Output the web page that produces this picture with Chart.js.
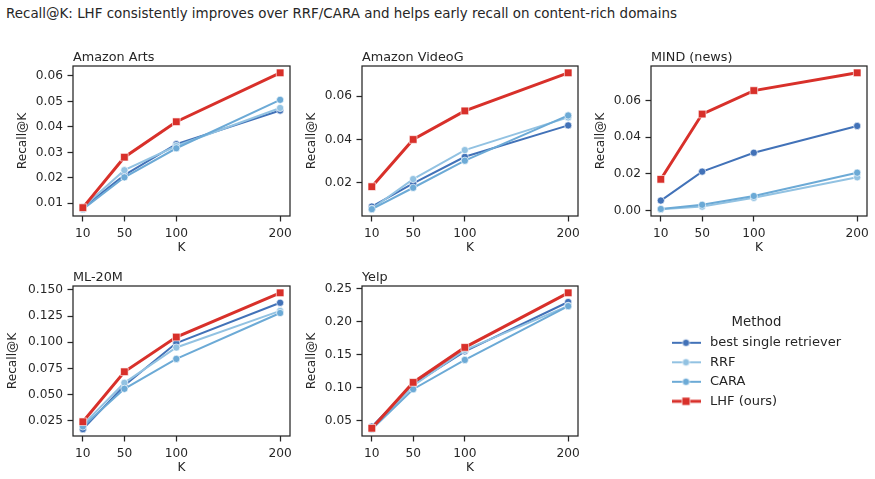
<!DOCTYPE html>
<html><head><meta charset="utf-8">
<script src="https://cdn.jsdelivr.net/npm/chart.js@4/dist/chart.umd.min.js"></script>
<style>
html,body{margin:0;padding:0;background:#fff;overflow:hidden;width:875px;height:479px;position:relative;}
#sup{position:absolute;left:6px;top:5.5px;font-family:'DejaVu Sans';font-size:13.45px;color:#262626;line-height:16px;white-space:nowrap;}
canvas{position:absolute;}
</style></head><body>
<div id="sup">Recall@K: LHF consistently improves over RRF/CARA and helps early recall on content-rich domains</div>
<script>
// ---- data ----
const kValues = [10, 50, 100, 200];
const methodNames = ['best single retriever', 'RRF', 'CARA', 'LHF (ours)'];
const panelTitles = ['Amazon Arts', 'Amazon VideoG', 'MIND (news)', 'ML-20M', 'Yelp'];

const artsBest = [0.0082, 0.0211, 0.0332, 0.0464];
const artsRRF  = [0.0085, 0.0230, 0.0325, 0.0474];
const artsCARA = [0.0077, 0.0202, 0.0316, 0.0506];
const artsLHF  = [0.0083, 0.0281, 0.0420, 0.0612];

const videoBest = [0.0090, 0.0197, 0.0320, 0.0465];
const videoRRF  = [0.0080, 0.0217, 0.0351, 0.0502];
const videoCARA = [0.0078, 0.0177, 0.0302, 0.0511];
const videoLHF  = [0.0182, 0.0400, 0.0532, 0.0708];

const mindBest = [0.0055, 0.0213, 0.0316, 0.0462];
const mindRRF  = [0.0008, 0.0022, 0.0070, 0.0182];
const mindCARA = [0.0009, 0.0032, 0.0080, 0.0207];
const mindLHF  = [0.0171, 0.0527, 0.0655, 0.0752];

const mlBest = [0.0169, 0.0587, 0.0993, 0.1378];
const mlRRF  = [0.0210, 0.0612, 0.0950, 0.1300];
const mlCARA = [0.0195, 0.0555, 0.0841, 0.1280];
const mlLHF  = [0.0240, 0.0718, 0.1050, 0.1473];

const yelpBest = [0.0410, 0.1050, 0.1550, 0.2298];
const yelpRRF  = [0.0380, 0.1030, 0.1570, 0.2240];
const yelpCARA = [0.0371, 0.0976, 0.1420, 0.2235];
const yelpLHF  = [0.0385, 0.1080, 0.1610, 0.2437];

const artsTicks  = [0.01, 0.02, 0.03, 0.04, 0.05, 0.06];
const videoTicks = [0.02, 0.04, 0.06];
const mindTicks  = [0.00, 0.02, 0.04, 0.06];
const mlTicks    = [0.025, 0.050, 0.075, 0.100, 0.125, 0.150];
const yelpTicks  = [0.05, 0.10, 0.15, 0.20, 0.25];
const tickDecimals = [2, 2, 2, 3, 2];

// ---- style ----
const FONT = 'DejaVu Sans';
const INK = '#262626';
const methodColors = ['#4272b8', '#92c2e2', '#6caad6', '#d8302a'];
const lineWidths = [2, 2, 2, 3];
const markerStyles = ['circle', 'circle', 'circle', 'rect'];
const markerRadius = [3.6, 3.6, 3.6, 5.4];
const drawOrder = [3, 2, 1, 0];

const panelData = [
  [artsBest, artsRRF, artsCARA, artsLHF],
  [videoBest, videoRRF, videoCARA, videoLHF],
  [mindBest, mindRRF, mindCARA, mindLHF],
  [mlBest, mlRRF, mlCARA, mlLHF],
  [yelpBest, yelpRRF, yelpCARA, yelpLHF],
];
const panelTicks = [artsTicks, videoTicks, mindTicks, mlTicks, yelpTicks];
const boxes = [
  {l: 73,  t: 66,  r: 290, b: 216, lab: 50},
  {l: 362, t: 66,  r: 578, b: 216, lab: 50},
  {l: 651, t: 66,  r: 867, b: 216, lab: 50.5},
  {l: 73,  t: 286, r: 290, b: 436, lab: 60},
  {l: 362, t: 286, r: 578, b: 436, lab: 50},
];

const framePlugin = {
  id: 'frame',
  afterDatasetsDraw(chart) {
    const {ctx, chartArea: a} = chart;
    ctx.save();
    ctx.strokeStyle = INK;
    ctx.lineWidth = 1.25;
    ctx.strokeRect(a.left, a.top, a.right - a.left, a.bottom - a.top);
    ctx.restore();
  },
  afterDraw(chart, args, opts) {
    const {ctx, chartArea: a} = chart;
    ctx.save();
    ctx.fillStyle = INK;
    ctx.font = '12.8px "' + FONT + '"';
    ctx.textBaseline = 'alphabetic';
    ctx.textAlign = 'left';
    ctx.fillText(opts.text, a.left, a.top - 5.5);
    ctx.restore();
  }
};

const LEFT = 70, TOP = 24, RIGHT = 8, BOTTOM = 44;
const xMin = kValues[0] - 0.05 * (kValues[kValues.length - 1] - kValues[0]);
const xMax = kValues[kValues.length - 1] + 0.05 * (kValues[kValues.length - 1] - kValues[0]);

panelData.forEach((series, p) => {
  const bx = boxes[p];
  const cv = document.createElement('canvas');
  cv.width = (bx.r - bx.l) + LEFT + RIGHT;
  cv.height = (bx.b - bx.t) + TOP + BOTTOM;
  cv.style.left = (bx.l - LEFT) + 'px';
  cv.style.top = (bx.t - TOP) + 'px';
  document.body.appendChild(cv);
  const all = series.flat();
  const dmin = Math.min(...all), dmax = Math.max(...all);
  const span = dmax - dmin;
  const ticks = panelTicks[p];
  const dec = tickDecimals[p];
  const labCenter = LEFT - bx.lab;
  new Chart(cv, {
    type: 'line',
    data: {
      datasets: series.map((vals, i) => ({
        label: methodNames[i],
        data: kValues.map((k, j) => ({x: k, y: vals[j]})),
        borderColor: methodColors[i],
        backgroundColor: methodColors[i],
        borderWidth: lineWidths[i],
        pointStyle: markerStyles[i],
        pointRadius: markerRadius[i],
        pointBackgroundColor: methodColors[i],
        pointBorderColor: 'rgba(255,255,255,0.85)',
        pointBorderWidth: 0.75,
        tension: 0,
        order: drawOrder[i],
      }))
    },
    options: {
      responsive: false,
      animation: false,
      events: [],
      layout: {padding: {left: 0, top: TOP, right: RIGHT, bottom: 0}},
      plugins: {legend: {display: false}, tooltip: {enabled: false}, frame: {text: panelTitles[p]}},
      scales: {
        x: {
          type: 'linear', min: xMin, max: xMax,
          afterBuildTicks: s => { s.ticks = kValues.map(v => ({value: v})); },
          afterFit: s => { s.height = BOTTOM; },
          ticks: {color: INK, font: {family: FONT, size: 12.2}, padding: 5.5, callback: v => String(v), maxRotation: 0, autoSkip: false},
          grid: {display: true, drawOnChartArea: false, drawTicks: true, tickLength: 5.5, tickColor: INK, tickWidth: 1.25},
          border: {display: false},
          title: {display: true, text: 'K', color: INK, font: {family: FONT, size: 12.2}, padding: {top: 0, bottom: 5}},
        },
        y: {
          type: 'linear', min: dmin - 0.05 * span, max: dmax + 0.05 * span,
          afterBuildTicks: s => { s.ticks = ticks.map(v => ({value: v})); },
          afterFit: s => { s.width = LEFT; },
          ticks: {color: INK, font: {family: FONT, size: 12.2}, padding: 4.5, callback: v => Number(v).toFixed(dec), autoSkip: false},
          grid: {display: true, drawOnChartArea: false, drawTicks: true, tickLength: 5.5, tickColor: INK, tickWidth: 1.25},
          border: {display: false},
          title: {display: true, text: 'Recall@K', color: INK, font: {family: FONT, size: 12.2}, padding: {top: labCenter - 12.2 * 1.2 / 2, bottom: 0}},
        }
      }
    },
    plugins: [framePlugin]
  });
});

// ---- legend (6th cell) ----
function markerCanvas(i) {
  const c = document.createElement('canvas');
  c.width = 29; c.height = 12;
  const g = c.getContext('2d');
  g.strokeStyle = methodColors[i];
  g.lineWidth = lineWidths[i];
  g.beginPath(); g.moveTo(0, 6); g.lineTo(29, 6); g.stroke();
  g.fillStyle = methodColors[i];
  g.strokeStyle = 'rgba(255,255,255,0.85)';
  g.lineWidth = 0.75;
  if (markerStyles[i] === 'rect') {
    g.fillRect(14.5 - 4, 2, 8, 8); g.strokeRect(14.5 - 4, 2, 8, 8);
  } else {
    g.beginPath(); g.arc(14.5, 6, 3.6, 0, Math.PI * 2); g.fill(); g.stroke();
  }
  return c;
}
const legendMarkers = methodNames.map((n, i) => markerCanvas(i));
const lc = document.createElement('canvas');
lc.width = 420; lc.height = 120;
lc.style.left = '661.5px'; lc.style.top = '315.5px';
document.body.appendChild(lc);
new Chart(lc, {
  type: 'line',
  data: {datasets: methodNames.map((n, i) => ({label: n, data: [], borderColor: methodColors[i], backgroundColor: methodColors[i]}))},
  options: {
    responsive: false, animation: false, events: [],
    layout: {padding: 0},
    scales: {x: {display: false}, y: {display: false}},
    plugins: {
      tooltip: {enabled: false},
      legend: {
        display: true, position: 'left', align: 'start',
        title: {display: true, text: 'Method', color: INK, font: {family: FONT, size: 13.3, lineHeight: 1}, padding: {top: 0, bottom: 0.5}},
        labels: {
          usePointStyle: true, pointStyleWidth: 35, font: {family: FONT, size: 13}, color: INK, padding: 6.5,
          generateLabels: () => methodNames.map((n, i) => ({
            text: n, pointStyle: legendMarkers[i], fillStyle: 'rgba(0,0,0,0)', strokeStyle: 'rgba(0,0,0,0)',
            lineWidth: 0, hidden: false, datasetIndex: i, fontColor: INK
          }))
        }
      }
    }
  }
});
</script>
</body></html>
